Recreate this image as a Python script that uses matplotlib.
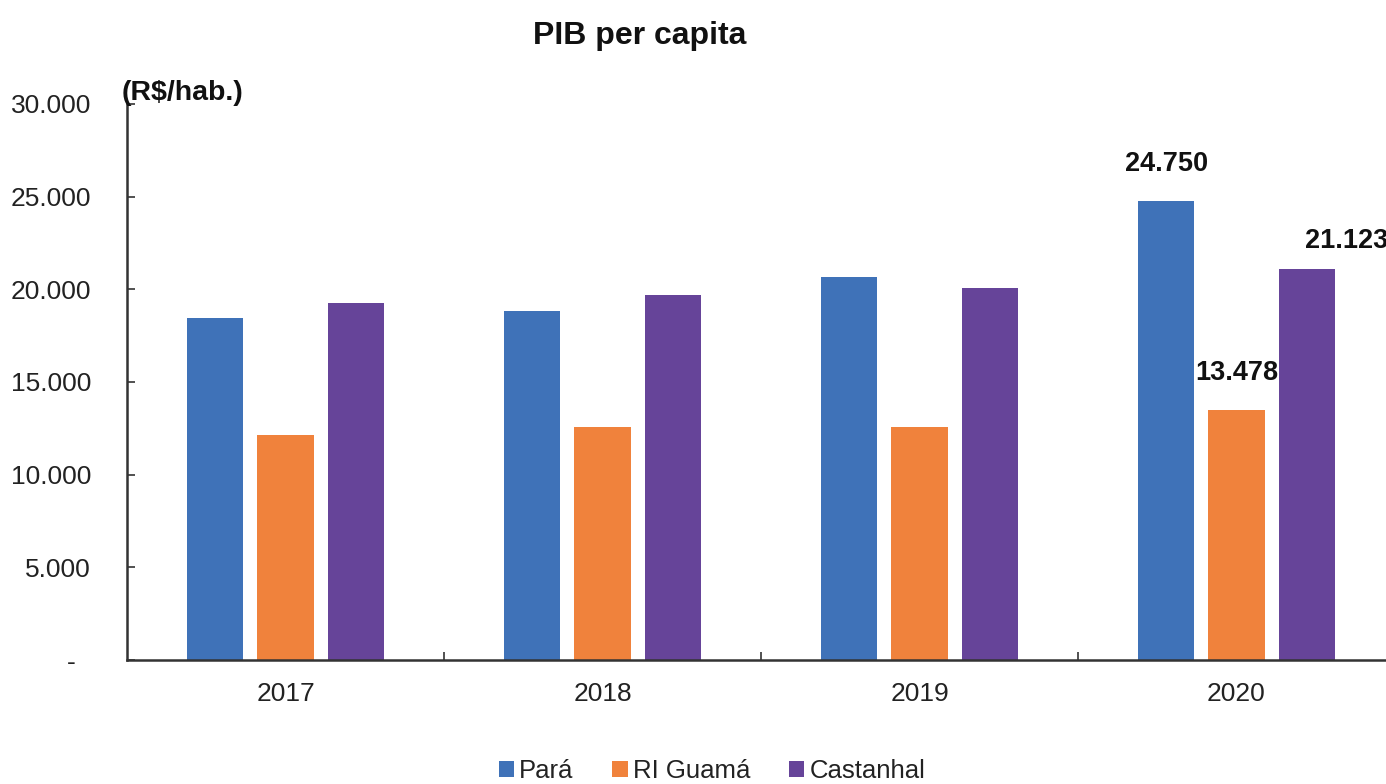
import numpy as np
import matplotlib
matplotlib.use("Agg")
import matplotlib.pyplot as plt

plt.rcParams['font.family'] = ['Liberation Sans', 'DejaVu Sans']

# data
anos = ["2017", "2018", "2019", "2020"]
para = [18450, 18830, 20670, 24750]
ri_guama = [12140, 12570, 12570, 13478]
castanhal = [19260, 19690, 20070, 21123]
series = ["Pará", "RI Guamá", "Castanhal"]
y_ticks = [0, 5000, 10000, 15000, 20000, 25000, 30000]

colors = ["#3F72B8", "#F0823C", "#664499"]

fig = plt.figure(figsize=(13.86, 7.84), dpi=100)
ax = fig.add_axes([127/1386, 1 - 660/784, 1268/1386, (660 - 104)/784])

x = np.arange(len(anos))
w = 0.177
step = 0.221
for i, (vals, name) in enumerate(zip([para, ri_guama, castanhal], series)):
    ax.bar(x + (i - 1)*step, vals, width=w, color=colors[i], label=name)

# labels only for 2020
lbl_off = [(0, 24), (0, 24), (40, 15)]
for i, vals in enumerate([para, ri_guama, castanhal]):
    v = vals[-1]
    txt = f"{v:,}".replace(",", ".")
    ax.annotate(txt, (x[-1] + (i - 1)*step, v), xytext=lbl_off[i],
                textcoords='offset pixels', ha='center', va='bottom',
                fontsize=19.5, fontweight='bold', color='#111111')

ax.set_xlim(-0.5, len(anos) - 0.5)
ax.set_ylim(0, 30000)
ax.set_yticks(y_ticks)
ax.set_yticklabels(["-  "] + [f"{t:,}".replace(",", ".") for t in y_ticks[1:]])
ax.set_xticks(x)
ax.set_xticklabels(anos)
ax.set_xticks(x[:-1] + 0.5, minor=True)
ax.tick_params(axis='x', which='major', length=0, pad=16, labelsize=19,
               labelcolor='#222222')
ax.tick_params(axis='x', which='minor', direction='in', length=6,
               width=1.2, color='#333333')
ax.tick_params(axis='y', direction='in', length=6, width=1.2,
               color='#333333', pad=26, labelsize=19, labelcolor='#222222')

for s in ['top', 'right']:
    ax.spines[s].set_visible(False)
for s in ['left', 'bottom']:
    ax.spines[s].set_color('#333333')
    ax.spines[s].set_linewidth(1.8)

fig.text(640/1386, 1 - 36/784, "PIB per capita", ha='center', va='center',
         fontsize=23, fontweight='bold', color='#111111')
fig.text(122/1386, 1 - 93/784, "(R$/hab.)", ha='left', va='center',
         fontsize=20.5, fontweight='bold', color='#111111', parse_math=False)

fig.legend(loc='center', bbox_to_anchor=(712/1386, 1 - 771/784), ncol=3,
           frameon=False, fontsize=18.5, handlelength=0.6, handleheight=0.6,
           handletextpad=0.2, columnspacing=1.5, labelcolor='#222222')

fig.savefig("out.png", dpi=100)
